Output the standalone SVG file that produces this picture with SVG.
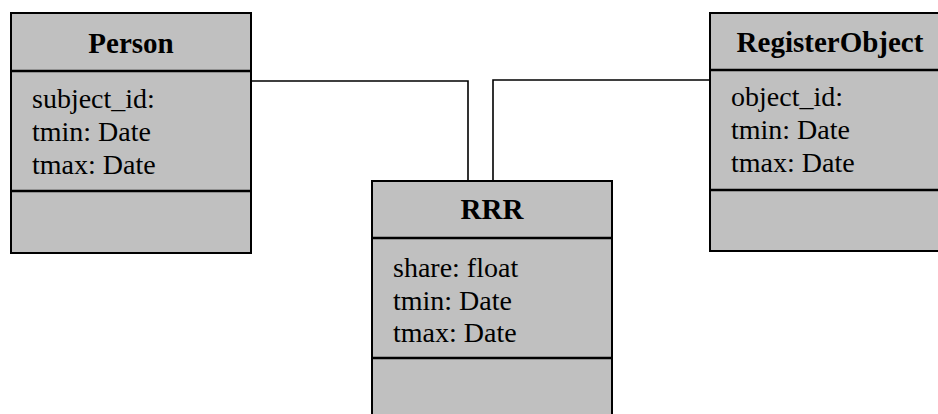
<svg xmlns="http://www.w3.org/2000/svg" width="938" height="414" viewBox="0 0 938 414">
<style>
.box{fill:#c0c0c0;stroke:#000;stroke-width:2}
.div{stroke:#000;stroke-width:2.5}
.title{font-family:"Liberation Serif","Times New Roman",serif;font-weight:bold;font-size:29px;fill:#000;text-anchor:middle}
.attr{font-family:"Liberation Serif","Times New Roman",serif;font-size:28px;fill:#000}
.conn{fill:none;stroke:#000;stroke-width:1.6}
</style>
<rect width="938" height="414" fill="#fff"/>
<g id="connectors">
<polyline class="conn" points="251,81 468,81 468,181"/>
<polyline class="conn" points="710,80 493,80 493,181"/>
</g>
<g id="person">
<rect class="box" x="11" y="13" width="240" height="240"/>
<line class="div" x1="11" y1="71" x2="251" y2="71"/>
<line class="div" x1="11" y1="191" x2="251" y2="191"/>
<text class="title" x="131" y="53">Person</text>
<text class="attr" x="32" y="108">subject_id:</text>
<text class="attr" x="32" y="141">tmin: Date</text>
<text class="attr" x="32" y="174">tmax: Date</text>
</g>
<g id="registerobject">
<rect class="box" x="710" y="13" width="240" height="238"/>
<line class="div" x1="710" y1="70" x2="950" y2="70"/>
<line class="div" x1="710" y1="190" x2="950" y2="190"/>
<text class="title" x="830" y="52">RegisterObject</text>
<text class="attr" x="731" y="106">object_id:</text>
<text class="attr" x="731" y="139">tmin: Date</text>
<text class="attr" x="731" y="172">tmax: Date</text>
</g>
<g id="rrr">
<rect class="box" x="372" y="181" width="240" height="240"/>
<line class="div" x1="372" y1="238" x2="612" y2="238"/>
<line class="div" x1="372" y1="358" x2="612" y2="358"/>
<text class="title" x="492" y="219">RRR</text>
<text class="attr" x="393" y="277">share: float</text>
<text class="attr" x="393" y="310">tmin: Date</text>
<text class="attr" x="393" y="342">tmax: Date</text>
</g>
</svg>
